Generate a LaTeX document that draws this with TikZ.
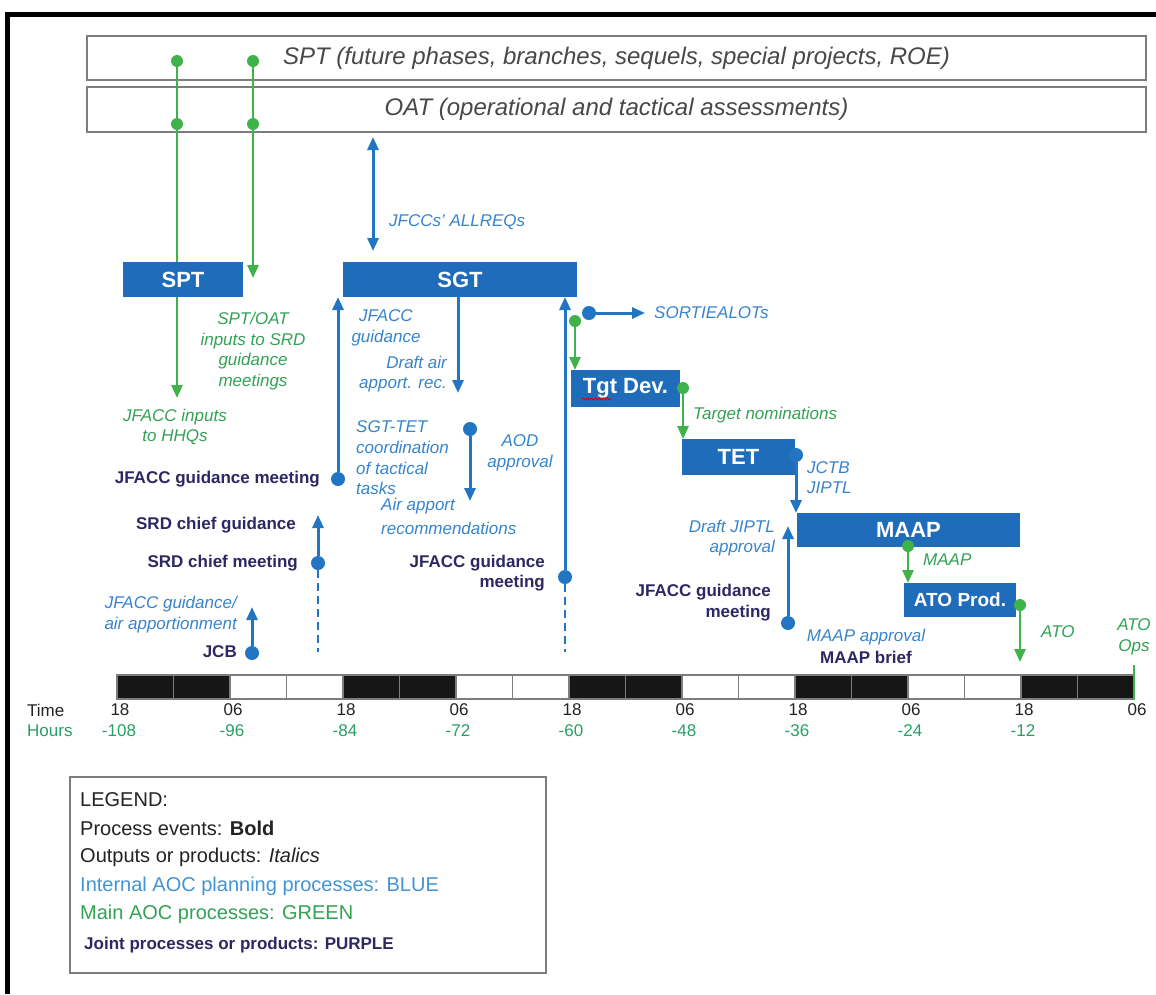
\documentclass[tikz,border=0pt]{standalone}
\usepackage{fontspec}
\setmainfont{Liberation Sans}
\usetikzlibrary{arrows.meta,decorations.pathmorphing}

\definecolor{boxblue}{RGB}{31,108,186}
\definecolor{lineblue}{RGB}{34,117,194}
\definecolor{txtblue}{RGB}{56,132,204}
\definecolor{legblue}{RGB}{66,148,214}
\definecolor{linegreen}{RGB}{64,178,74}
\definecolor{txtgreen}{RGB}{50,162,84}
\definecolor{hrsgreen}{RGB}{38,160,100}
\definecolor{txtpurple}{RGB}{46,40,98}
\definecolor{txtgray}{RGB}{72,72,72}
\definecolor{rulegray}{RGB}{125,125,125}
\definecolor{cellblack}{RGB}{22,22,22}
\definecolor{legdark}{RGB}{35,35,35}

\begin{document}
\begin{tikzpicture}[x=1pt,y=-1pt,
  band/.style={draw=rulegray, line width=2pt, fill=white, inner sep=0pt, outer sep=0pt,
    minimum width=1059pt, font=\fontsize{24}{28}\selectfont\itshape, text=txtgray},
  procbox/.style={fill=boxblue, text=white, inner sep=0pt, outer sep=0pt,
    font=\fontsize{22}{24}\selectfont\bfseries},
  bdot/.style={circle, fill=lineblue, inner sep=0pt, minimum size=14pt},
  gdot/.style={circle, fill=linegreen, inner sep=0pt, minimum size=12pt},
  barrow/.style={draw=lineblue, line width=3pt, -{Triangle[length=13pt,width=11pt]}},
  bboth/.style={draw=lineblue, line width=3pt, {Triangle[length=13pt,width=11pt]}-{Triangle[length=13pt,width=11pt]}},
  garrow/.style={draw=linegreen, line width=2.6pt, -{Triangle[length=13pt,width=11pt]}},
  bdash/.style={draw=lineblue, line width=2.6pt, dash pattern=on 8pt off 5pt},
  btxt/.style={text=txtblue, font=\fontsize{17}{20.7}\selectfont\itshape, inner sep=0pt},
  gtxt/.style={text=txtgreen, font=\fontsize{17}{20.7}\selectfont\itshape, inner sep=0pt},
  ptxt/.style={text=txtpurple, font=\fontsize{17}{20.5}\selectfont\bfseries, inner sep=0pt},
  timetxt/.style={text=legdark, font=\fontsize{17}{20}\selectfont, inner sep=0pt},
  hourtxt/.style={text=hrsgreen, font=\fontsize{17}{20}\selectfont, inner sep=0pt},
  legtxt/.style={font=\fontsize{20}{24}\selectfont, inner sep=0pt, anchor=west},
  cell/.style={draw=rulegray, line width=1.5pt}
]
\useasboundingbox (0,0) rectangle (1156,994);
\fill[white] (0,0) rectangle (1156,994);

% outer frame (top and left edges)
\draw[line width=5pt, black, line join=miter] (7,994) -- (7,14.5) -- (1156,14.5);

% long-range planning bands
\node[band, minimum height=44pt] (sptband) at (616.5,58)
  {SPT (future phases, branches, sequels, special projects, ROE)};
\node[band, minimum height=45pt] (oatband) at (616.5,109.5)
  {OAT (operational and tactical assessments)};

% SPT/OAT feeds into the strategy cells
\node[gdot] (gs1) at (177,61) {};
\node[gdot] (go1) at (177,124) {};
\node[gdot] (gs2) at (253,61) {};
\node[gdot] (go2) at (253,124) {};
\coordinate (g1end) at (177,398);
\coordinate (g2end) at (253,278);
\draw[garrow] (gs1) -- (g1end);
\draw[garrow] (gs2) -- (g2end);

% process boxes
\node[procbox, minimum width=120pt, minimum height=35pt] (spt) at (183,279.5) {SPT};
\node[procbox, minimum width=234pt, minimum height=35pt] (sgt) at (460,279.5) {SGT};
\node[procbox, minimum width=109pt, minimum height=37pt] (tgt) at (625.5,388.5) {Tgt Dev.};
\node[procbox, minimum width=113pt, minimum height=36pt] (tet) at (738.5,457) {TET};
\node[procbox, minimum width=223pt, minimum height=34pt] (maap) at (908.5,530) {MAAP};
\node[procbox, minimum width=112pt, minimum height=34pt,
      font=\fontsize{19}{22}\selectfont\bfseries] (atop) at (960,600) {ATO Prod.};
% spell-check squiggle under "Tgt"
\draw[red!85!black, line width=0.8pt, decorate,
      decoration={snake, amplitude=1.1pt, segment length=4pt}] (582,399) -- (612,399);

% component requests between OAT and SGT
\coordinate (reqtop) at (373,137);
\coordinate (reqbot) at (373,251);
\draw[bboth] (reqtop) -- (reqbot);
\node[btxt, anchor=west] (allreq) at (389,222) {JFCCs' ALLREQs};

% labels around SPT
\node[gtxt, align=center] (sptin) at (253,351) {SPT/OAT\\inputs to SRD\\guidance\\meetings};
\node[gtxt, align=center] (hhq) at (175,427) {JFACC inputs\\to HHQs};

% JFACC guidance meeting into SGT
\node[bdot] (jgm1) at (338,479) {};
\draw[barrow] (jgm1) -- (jgm1 |- sgt.south);
\node[ptxt, anchor=east] (jgm1lbl) at (320,479) {JFACC guidance meeting};
\node[btxt, align=center] (jguid) at (386,328) {JFACC\\guidance};

% draft apportionment recommendation out of SGT
\coordinate (draftend) at (458,393);
\draw[barrow] (draftend |- sgt.south) -- (draftend);
\node[btxt, align=right, anchor=east] (draftlbl) at (447,374) {Draft air\\apport. rec.};

% SGT-TET coordination
\node[btxt, align=left, anchor=west] (sgttet) at (356,458) {SGT-TET\\coordination\\of tactical\\tasks};
\node[bdot] (aod) at (470,429) {};
\coordinate (aodend) at (470,501);
\draw[barrow] (aod) -- (aodend);
\node[btxt, align=center] (aodlbl) at (520,453) {AOD\\approval};
\node[btxt, align=left, anchor=west] (airrec) at (381,516.5) {Air apport\\[4pt]recommendations};

% second JFACC guidance meeting back to SGT
\node[bdot] (jgm2) at (565,577) {};
\draw[barrow] (jgm2) -- (jgm2 |- sgt.south);
\coordinate (jgm2tail) at (565,652);
\draw[bdash] (jgm2) -- (jgm2tail);
\node[ptxt, align=right, anchor=east] (jgm2lbl) at (545,573) {JFACC guidance\\meeting};

% SRD chief meeting
\node[bdot] (srd) at (318,563) {};
\coordinate (srdend) at (318,515);
\draw[barrow] (srd) -- (srdend);
\coordinate (srdtail) at (318,652);
\draw[bdash] (srd) -- (srdtail);
\node[ptxt, anchor=east] (srdguid) at (296,525) {SRD chief guidance};
\node[ptxt, anchor=east] (srdmeet) at (298,563) {SRD chief meeting};

% JCB
\node[bdot] (jcb) at (252,653) {};
\coordinate (jcbend) at (252,607);
\draw[barrow] (jcb) -- (jcbend);
\node[ptxt, anchor=east] (jcblbl) at (237,652) {JCB};
\node[btxt, align=right, anchor=east] (jcbout) at (237,614.5) {JFACC guidance/\\air apportionment};

% sortie allotments
\node[bdot] (sortie) at (589,313) {};
\coordinate (sortieend) at (645,313);
\draw[barrow] (sortie) -- (sortieend);
\node[btxt, anchor=west] (sortielbl) at (654,313) {SORTIEALOTs};

% SGT to target development
\node[gdot] (sgtout) at (575,321) {};
\draw[garrow] (sgtout) -- (sgtout |- tgt.north);

% target development to TET
\node[gdot] (tgtout) at (683,388) {};
\draw[garrow] (tgtout) -- (tgtout |- tet.north);
\node[gtxt, anchor=west] (tnom) at (693,415) {Target nominations};

% TET to MAAP
\node[bdot] (tetout) at (796,455) {};
\draw[barrow] (tetout) -- (tetout |- maap.north);
\node[btxt, align=left, anchor=west] (jctb) at (807,477.5) {JCTB\\JIPTL};

% JIPTL approval
\node[bdot] (jgm3) at (788,623) {};
\coordinate (jgm3end) at (788,526);
\draw[barrow] (jgm3) -- (jgm3end);
\node[btxt, align=right, anchor=east] (jiptl) at (775,538) {Draft JIPTL\\approval};
\node[ptxt, align=right, anchor=east] (jgm3lbl) at (771,602.5) {JFACC guidance\\meeting};

% MAAP to ATO production
\node[gdot] (maapout) at (908,546) {};
\draw[garrow] (maapout) -- (maapout |- atop.north);
\node[gtxt, anchor=west] (maaplbl) at (923,560) {MAAP};
\node[btxt] (maapappr) at (866,637) {MAAP approval};
\node[ptxt] (maapbrief) at (866,657) {MAAP brief};

% ATO out
\node[gdot] (atoout) at (1020,605) {};
\coordinate (atoend) at (1020,662);
\draw[garrow] (atoout) -- (atoend);
\node[gtxt, anchor=west] (atolbl) at (1041,632) {ATO};
\node[gtxt, align=center] (atoops) at (1134,637) {ATO\\Ops};
\coordinate (opstop) at (1134,665);
\coordinate (opsbot) at (1134,700);

% time line: 18 six-hour cells
\foreach \i in {0,...,17}{
  \pgfmathsetmacro\xa{117+56.5*\i}
  \pgfmathsetmacro\xb{\xa+56.5}
  \pgfmathtruncatemacro\m{mod(\i,4)}
  \ifnum\m<2 \def\cf{cellblack}\else\def\cf{white}\fi
  \draw[cell, fill=\cf] (\xa,675) rectangle (\xb,699);
}
\draw[linegreen, line width=2pt] (opstop) -- (opsbot);

\node[timetxt, anchor=west] (timelbl) at (27,710) {Time};
\node[hourtxt, anchor=west] (hourlbl) at (27,731) {Hours};
\foreach \k/\t in {0/18,1/06,2/18,3/06,4/18,5/06,6/18,7/06,8/18,9/06}
  \node[timetxt] (clk\k) at ({120+113*\k},710) {\t};
\foreach \k/\h in {0/-108,1/-96,2/-84,3/-72,4/-60,5/-48,6/-36,7/-24,8/-12}
  \node[hourtxt] (hr\k) at ({119+113*\k},731) {\h};

% legend
\node[draw=rulegray, line width=2pt, inner sep=0pt, minimum width=476pt, minimum height=196pt]
  (legendbox) at (308,875) {};
\node[legtxt, text=legdark] (lg0) at (80,800) {LEGEND:};
\node[legtxt, text=legdark] (lg1) at (80,828) {Process events: \textbf{Bold}};
\node[legtxt, text=legdark] (lg2) at (80,857) {Outputs or products: \textit{Italics}};
\node[legtxt, text=legblue] (lg3) at (80,886) {Internal AOC planning processes: BLUE};
\node[legtxt, text=txtgreen] (lg4) at (80,914) {Main AOC processes: GREEN};
\node[legtxt, text=txtpurple, font=\fontsize{17}{20}\selectfont\bfseries] (lg5) at (84,945)
  {Joint processes or products: PURPLE};
\end{tikzpicture}
\end{document}
